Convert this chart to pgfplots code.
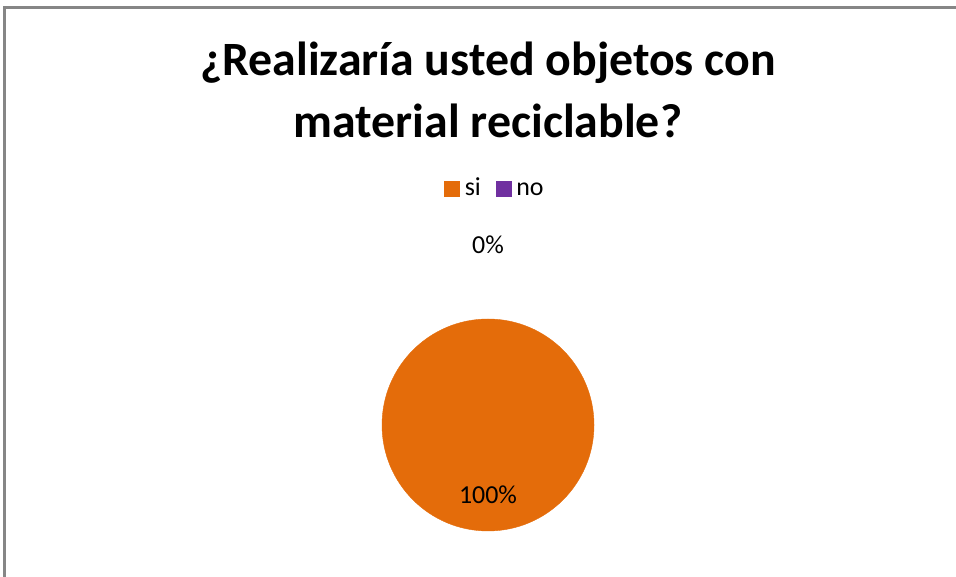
\documentclass[border=0pt]{standalone}
\usepackage{pgfplots}
\pgfplotsset{compat=1.18}
\usepackage{fontspec}
\setmainfont{Carlito}

\definecolor{siorange}{HTML}{E46C0A}
\definecolor{nopurple}{HTML}{7030A0}
\definecolor{framegray}{HTML}{868686}

\begin{document}
\begin{tikzpicture}[x=1bp,y=1bp]
\path[use as bounding box] (0,0) rectangle (956,577);
% chart frame (only top and left edges are visible)
\draw[framegray, line width=2.2bp] (4.5,0) -- (4.5,569.5) -- (956,569.5);
\node[font=\fontsize{48}{58}\selectfont\bfseries] at (488,514) {¿Realizaría usted objetos con};
\node[font=\fontsize{48}{58}\selectfont\bfseries] at (488,456) {material reciclable?};
\begin{axis}[
    at={(0,0)}, anchor=south west,
    width=956bp, height=577bp,
    scale only axis,
    hide axis,
    clip=false,
    xmin=-488, xmax=468,
    ymin=-152, ymax=425,
    point meta=explicit symbolic,
    nodes near coords,
    every node near coord/.append style={font=\fontsize{26}{30}\selectfont, text=black, anchor=center},
    legend columns=2,
    legend style={draw=none, fill=none, at={(0.5167,0.6724)}, anchor=center,
        font=\fontsize{26}{30}\selectfont,
        nodes={text height=16bp, text depth=4bp, inner xsep=0bp},
        /tikz/every odd column/.append style={column sep=5bp},
        /tikz/every even column/.append style={column sep=15bp}},
]
% si: 100 %
\addplot[only marks, mark=*, mark size=106bp,
    mark options={draw=siorange, fill=siorange},
    every node near coord/.append style={yshift=-70bp},
    legend image code/.code={\fill[siorange] (0bp,-7.5bp) rectangle (15bp,7.5bp);}]
    coordinates {(0,0) [100\%]};
\addlegendentry{si}
% no: 0 %
\addplot[only marks, mark=none,
    every node near coord/.append style={yshift=180bp},
    legend image code/.code={\fill[nopurple] (0bp,-7.5bp) rectangle (15bp,7.5bp);}]
    coordinates {(0,0) [0\%]};
\addlegendentry{no}
\end{axis}
\end{tikzpicture}
\end{document}
